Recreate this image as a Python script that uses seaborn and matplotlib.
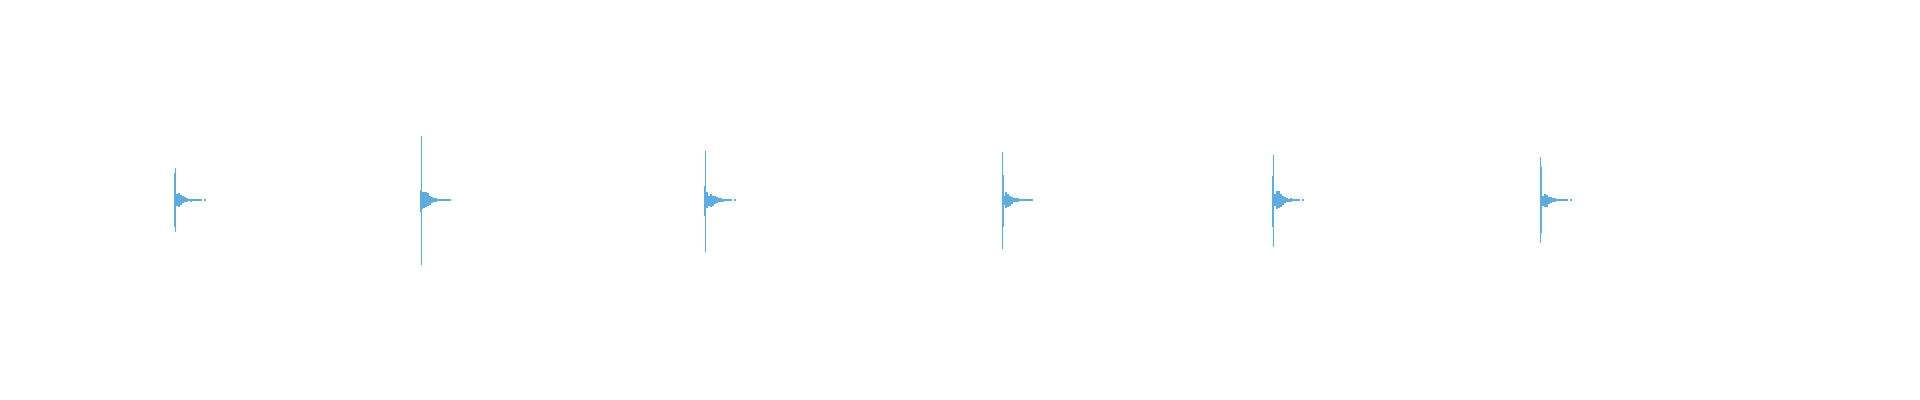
import matplotlib
matplotlib.use("Agg")
import matplotlib.pyplot as plt
import seaborn as sns
import pandas as pd

sns.set_theme(style="white")

WAVE_COLOR = "#5DADE2"

# Onset time (s) of each hit: first column of the transient
hit_times = [1.0906, 2.6219, 4.4031, 6.2594, 7.9531, 9.6281]

# First two sample columns of each hit (positive / negative peak amplitude)
col0_up = [0.134, 0.0525, 0.069, 0.2425, 0.1225, 0.214]
col0_dn = [0.131, 0.0525, 0.0725, 0.241, 0.1275, 0.2075]
col1_up = [0.159, 0.3225, 0.2475, 0.1275, 0.2275, 0.1675]
col1_dn = [0.156, 0.3175, 0.2525, 0.1275, 0.2275, 0.161]

# Decaying tail envelope after each hit (every 12.5 ms)
tail_up = [
    [0.031, 0.034, 0.026, 0.0225, 0.014, 0.009, 0.004, 0.0075, 0.003, 0.003, 0.003, 0.003, 0.003, 0, 0.003],
    [0.039, 0.0425, 0.0425, 0.034, 0.0225, 0.014, 0.009, 0.011, 0.006, 0.004, 0.004, 0.003, 0.003, 0.003, 0.003],
    [0.039, 0.0225, 0.031, 0.0225, 0.019, 0.014, 0.011, 0.009, 0.0075, 0.004, 0.003, 0.003, 0.003, 0, 0.003],
    [0.0225, 0.039, 0.031, 0.0225, 0.014, 0.011, 0.009, 0.011, 0.006, 0.003, 0.003, 0.003, 0.003, 0.003, 0.003],
    [0.031, 0.0475, 0.044, 0.031, 0.0225, 0.014, 0.011, 0.0075, 0.009, 0.006, 0.004, 0.003, 0.003, 0, 0.003],
    [0.0225, 0.031, 0.0275, 0.0175, 0.014, 0.009, 0.011, 0.006, 0.004, 0.003, 0.003, 0.003, 0.003, 0, 0.003],
]
tail_dn = [
    [0.0275, 0.0325, 0.0225, 0.016, 0.011, 0.0075, 0.004, 0.0075, 0.003, 0.003, 0.003, 0.003, 0.003, 0, 0.003],
    [0.044, 0.039, 0.036, 0.0275, 0.0225, 0.0125, 0.009, 0.0075, 0.006, 0.004, 0.004, 0.003, 0.003, 0.003, 0.003],
    [0.041, 0.0275, 0.036, 0.0275, 0.021, 0.016, 0.011, 0.009, 0.0075, 0.004, 0.003, 0.003, 0.003, 0, 0.003],
    [0.024, 0.041, 0.036, 0.0275, 0.019, 0.011, 0.0075, 0.011, 0.006, 0.003, 0.003, 0.003, 0.003, 0.003, 0.003],
    [0.0275, 0.044, 0.039, 0.0325, 0.0225, 0.016, 0.011, 0.0075, 0.009, 0.006, 0.004, 0.003, 0.003, 0, 0.003],
    [0.0275, 0.036, 0.0325, 0.019, 0.014, 0.009, 0.011, 0.006, 0.004, 0.003, 0.003, 0.003, 0.003, 0, 0.003],
]

DURATION = 12.0
W, H, DPI = 1920, 400, 100
dt = DURATION / W  # seconds per pixel column

rows = []
for i, t0 in enumerate(hit_times):
    rows.append(dict(t=t0, top=col0_up[i], bot=-col0_dn[i], kind="peak"))
    rows.append(dict(t=t0 + dt, top=col1_up[i], bot=-col1_dn[i], kind="peak"))
    for k, (u, d) in enumerate(zip(tail_up[i], tail_dn[i])):
        if u == 0 and d == 0:
            continue
        rows.append(dict(t=t0 + 2 * dt + (2 * k + 0.5) * dt, top=u, bot=-d, kind="tail"))
df = pd.DataFrame(rows)

fig = plt.figure(figsize=(W / DPI, H / DPI), dpi=DPI)
ax = fig.add_axes([0, 0, 1, 1])
px_pt = 72.0 / DPI
pk = df[df.kind == "peak"]
tl = df[df.kind == "tail"]
ax.vlines(pk.t, pk.bot, pk.top, color=WAVE_COLOR, linewidth=1.0 * px_pt, antialiased=False)
ax.vlines(tl.t, tl.bot, tl.top, color=WAVE_COLOR, linewidth=2.0 * px_pt, antialiased=False)
ax.set_xlim(0, DURATION)
ax.set_ylim(-1, 1)
ax.axis("off")
fig.savefig("out.png", dpi=DPI, facecolor="white")
